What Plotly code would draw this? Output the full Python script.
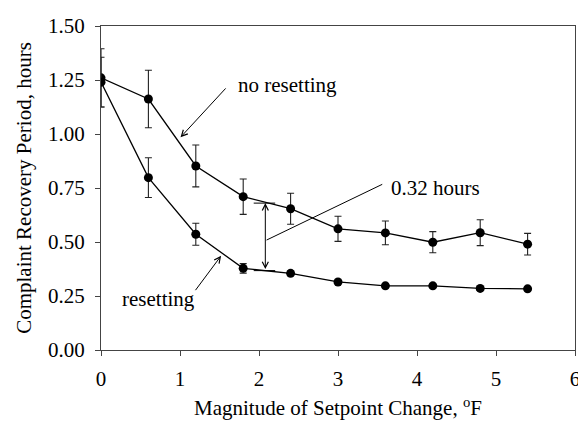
import plotly.graph_objects as go

x_vals = [0, 0.6, 1.2, 1.8, 2.4, 3.0, 3.6, 4.2, 4.8, 5.4]
no_reset = [1.26, 1.162, 0.852, 0.710, 0.654, 0.561, 0.542, 0.499, 0.543, 0.490]
no_reset_err = [0.135, 0.133, 0.097, 0.082, 0.072, 0.058, 0.055, 0.049, 0.060, 0.050]
reset = [1.24, 0.798, 0.536, 0.378, 0.355, 0.315, 0.297, 0.297, 0.285, 0.283]
reset_err = [0.115, 0.092, 0.051, 0.022, 0.010, 0.008, 0.008, 0.008, 0.008, 0.008]

x_ticks = [0, 1, 2, 3, 4, 5, 6]
y_ticks = [0.0, 0.25, 0.5, 0.75, 1.0, 1.25, 1.5]

FONT = "Liberation Serif, Times New Roman, DejaVu Serif, serif"
FS = 21

fig = go.Figure()
for yv, ev in [(no_reset, no_reset_err), (reset, reset_err)]:
    fig.add_trace(go.Scatter(
        x=x_vals, y=yv, mode="lines+markers",
        line=dict(color="black", width=1.3),
        marker=dict(color="black", size=9),
        error_y=dict(type="data", array=ev, visible=True, color="#222222",
                     thickness=1.1, width=3.5),
        showlegend=False,
    ))

ann = []
ann.append(dict(x=1.007, y=0.985, ax=1.595, ay=1.218, xref="x", yref="y",
                axref="x", ayref="y", text="", showarrow=True, arrowhead=5,
                arrowsize=1.2, arrowwidth=1, arrowcolor="black"))
ann.append(dict(x=1.708, y=1.229, text="no resetting", showarrow=False,
                xanchor="left", yanchor="middle", font=dict(family=FONT, size=FS, color="black")))
ann.append(dict(x=1.520, y=0.436, ax=1.182, ay=0.270, xref="x", yref="y",
                axref="x", ayref="y", text="", showarrow=True, arrowhead=5,
                arrowsize=1.2, arrowwidth=1, arrowcolor="black"))
ann.append(dict(x=0.244, y=0.238, text="resetting", showarrow=False,
                xanchor="left", yanchor="middle", font=dict(family=FONT, size=FS, color="black")))
ann.append(dict(x=2.080, y=0.680, ax=2.080, ay=0.3675, xref="x", yref="y",
                axref="x", ayref="y", text="", showarrow=True, arrowhead=5,
                arrowside="end+start", arrowsize=1.2, arrowwidth=1, arrowcolor="black"))
ann.append(dict(x=3.644, y=0.748, text="0.32 hours", showarrow=False,
                xanchor="left", yanchor="middle", font=dict(family=FONT, size=FS, color="black")))
fig.update_layout(annotations=ann)

shapes = [
    dict(type="line", x0=2.096, y0=0.509, x1=3.560, y1=0.767, xref="x", yref="y",
         line=dict(color="black", width=1)),
    dict(type="line", x0=1.933, y0=0.680, x1=2.205, y1=0.680, xref="x", yref="y",
         line=dict(color="black", width=1)),
    dict(type="line", x0=1.933, y0=0.3675, x1=2.205, y1=0.3675, xref="x", yref="y",
         line=dict(color="black", width=1)),
]
fig.update_layout(shapes=shapes)

axis_common = dict(showline=True, linecolor="#444444", linewidth=1.2, mirror=True,
                   ticks="outside", ticklen=5, tickcolor="#444444", tickwidth=1.2,
                   showgrid=False, zeroline=False, ticklabeloverflow="allow",
                   tickfont=dict(family=FONT, size=FS, color="black"))

fig.update_xaxes(range=[0, 6], tickvals=x_ticks, ticktext=[str(t) for t in x_ticks],
                 title=dict(text="Magnitude of Setpoint Change, <sup>o</sup>F",
                            font=dict(family=FONT, size=FS, color="black"), standoff=10),
                 ticklabelstandoff=5,
                 **axis_common)
fig.update_yaxes(range=[0, 1.5], tickvals=y_ticks, ticktext=[f"{t:.2f}" for t in y_ticks],
                 title=dict(text="Complaint Recovery Period, hours",
                            font=dict(family=FONT, size=FS, color="black"), standoff=10),
                 ticklabelstandoff=6,
                 **axis_common)

# page body has an 8px default margin, so the figure is shrunk to sit in the window
fig.update_layout(width=578, height=417,
                  margin=dict(l=92.5, r=6, t=7, b=74.5),
                  font=dict(family=FONT),
                  plot_bgcolor="white", paper_bgcolor="white")

fig.write_html("out.html")
